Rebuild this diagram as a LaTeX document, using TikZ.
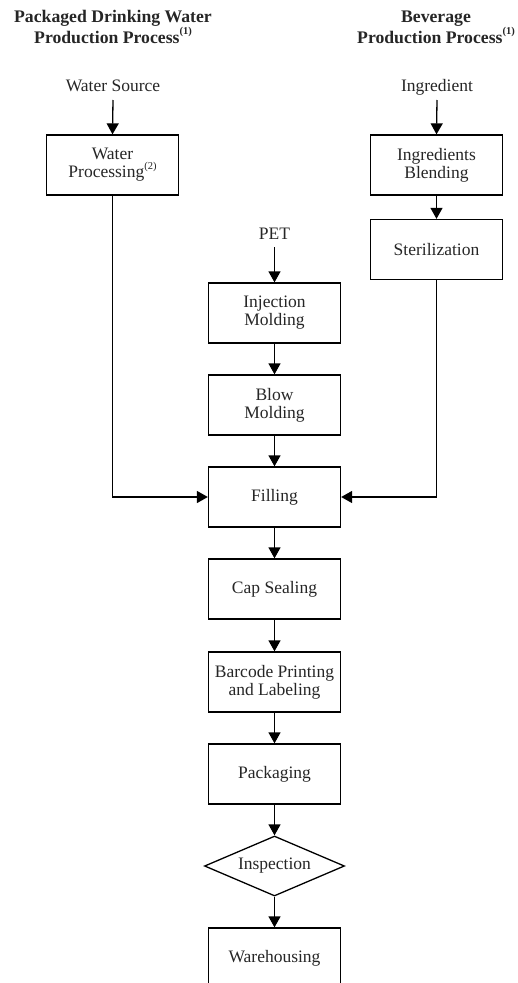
\documentclass[tikz,border=0pt]{standalone}
\usepackage{fontspec}
\setmainfont{Liberation Serif}
\usetikzlibrary{arrows.meta,shapes.geometric}
\newcommand{\smark}[1]{\raisebox{0.5em}{\fontsize{10.5}{11}\selectfont(#1)}}
\begin{document}
\begin{tikzpicture}[x=1pt,y=1pt,
  every node/.style={font=\fontsize{17.5}{18}\selectfont, align=center, text=black!85},
  proc/.style={draw=black, line width=1.3pt, minimum width=132pt, minimum height=60pt, inner sep=0pt},
  dec/.style={diamond, aspect=2.333, draw=black, line width=1.3pt, minimum width=140pt, minimum height=60pt, inner sep=0pt},
  lbl/.style={inner sep=0pt, anchor=base},
  head/.style={font=\fontsize{17.7}{18}\selectfont\bfseries, inner sep=0pt},
  arr/.style={line width=1.3pt, -{Triangle[width=12pt,length=11pt]}}]
\useasboundingbox (0,0) rectangle (517,-983);
% headings
\node[head] (h1) at (113,-27) {Packaged Drinking Water\\Production Process\smark{1}};
\node[head] (h2) at (436,-27) {Beverage\\Production Process\smark{1}};
% sources
\node[lbl] (ws) at (113,-91.5) {Water Source};
\node[lbl] (ing) at (437,-91.5) {Ingredient};
\node[lbl] (pet) at (274.5,-239) {PET};
% boxes
\node[proc] (wp) at (112.5,-165) {Water\\Processing\smark{2}};
\node[proc] (ib) at (436.5,-165) {Ingredients\\Blending};
\node[proc] (st) at (436.5,-249.5) {Sterilization};
\node[proc] (im) at (274.5,-313) {Injection\\Molding};
\node[proc] (bm) at (274.5,-405) {Blow\\Molding};
\node[proc] (fi) at (274.5,-497) {Filling};
\node[proc] (cs) at (274.5,-589) {Cap Sealing};
\node[proc] (bp) at (274.5,-682) {Barcode Printing\\and Labeling};
\node[proc] (pk) at (274.5,-774) {Packaging};
\node[dec] (ins) at (274.5,-866) {Inspection};
\node[proc] (wh) at (274.5,-958) {Warehousing};
% connectors
\draw[arr] ([yshift=-8.5pt]ws.base) -- (wp.north);
\draw[arr] ([yshift=-8.5pt]ing.base) -- (ib.north);
\draw[arr] ([yshift=-8pt]pet.base) -- (im.north);
\draw[arr] (ib) -- (st);
\draw[arr] (im) -- (bm);
\draw[arr] (bm) -- (fi);
\draw[arr] (wp.south) |- (fi.west);
\draw[arr] (st.south) |- (fi.east);
\draw[arr] (fi) -- (cs);
\draw[arr] (cs) -- (bp);
\draw[arr] (bp) -- (pk);
\draw[arr] (pk) -- (ins);
\draw[arr] (ins) -- (wh);
\end{tikzpicture}
\end{document}
